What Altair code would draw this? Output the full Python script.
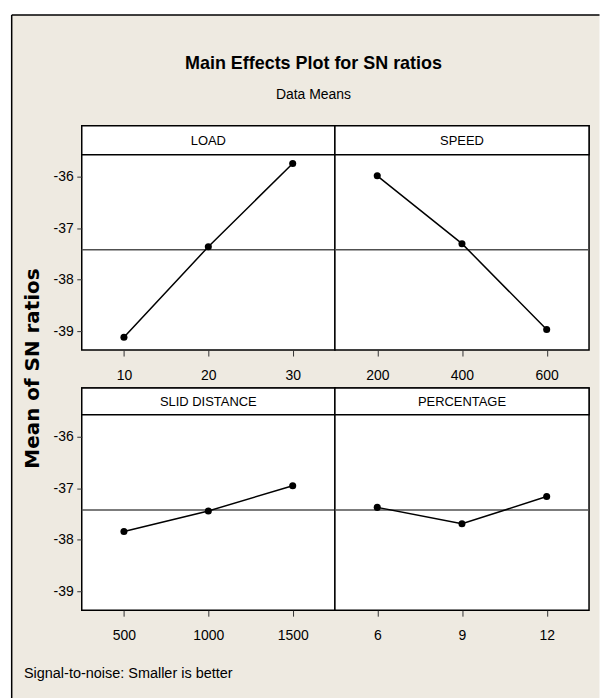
import altair as alt
import pandas as pd

# ---------------- data ----------------
load_levels = [10, 20, 30]
load_sn = [-39.12, -37.36, -35.74]
speed_levels = [200, 400, 600]
speed_sn = [-35.98, -37.30, -38.97]
dist_levels = [500, 1000, 1500]
dist_sn = [-37.84, -37.44, -36.95]
pct_levels = [6, 9, 12]
pct_sn = [-37.37, -37.69, -37.16]
overall_mean = -37.42
y_ticks = [-39, -38, -37, -36]
y_domain = [-39.37, -35.57]

factor_names = ["LOAD", "SPEED", "SLID DISTANCE", "PERCENTAGE"]
title_text = "Main Effects Plot for SN ratios"
subtitle_text = "Data Means"
y_title_text = "Mean of SN ratios"
footnote_text = "Signal-to-noise: Smaller is better"

# ---------------- style ----------------
FONT = "Liberation Sans"
BEIGE = "#EEEAE1"
PLOT_H = 196
one = pd.DataFrame({"k": [0]})

# frame extents relative to the first panel origin
FX0, FX1, FY0, FY1 = -70.3, 519.5, -111.3, 600


def panel(label, levels, values, width, hh, show_y, first=False):
    total_h = hh + PLOT_H
    order = [str(v) for v in levels]
    df = pd.DataFrame({"level": order, "sn": values})
    mdf = pd.DataFrame({"sn": [overall_mean]})
    x = alt.X("level:O", sort=order,
              scale=alt.Scale(type="point", padding=0.5),
              axis=alt.Axis(title=None, labelAngle=0, tickSize=6, labelPadding=12.3,
                            labelFont=FONT, labelFontSize=14, zindex=1))
    if show_y:
        yax = alt.Axis(title=None, values=y_ticks, tickSize=5, labelPadding=3.5, zindex=1,
                       labelFont=FONT, labelFontSize=14, labelExpr="datum.value + ''")
    else:
        yax = None
    y = alt.Y("sn:Q", scale=alt.Scale(domain=y_domain, range=[total_h, hh], nice=False, zero=False),
              axis=yax)

    layers = []
    if first:
        layers.append(alt.Chart(one).mark_rect(fill=BEIGE, strokeWidth=0).encode(
            x=alt.value(FX0), x2=alt.value(FX1), y=alt.value(FY0), y2=alt.value(FY1)))
        layers.append(alt.Chart(one).mark_rule(color="black", strokeWidth=1.5).encode(
            x=alt.value(FX0), y=alt.value(FY0), y2=alt.value(FY1)))
        layers.append(alt.Chart(one).mark_rule(color="black", strokeWidth=1.5).encode(
            x=alt.value(FX0), x2=alt.value(FX1), y=alt.value(FY0)))
        layers.append(alt.Chart(one).mark_rect(fill="white", stroke="black", strokeWidth=1.5).encode(
            x=alt.value(0), x2=alt.value(width), y=alt.value(0), y2=alt.value(total_h)))
        layers.append(alt.Chart(one).mark_text(font=FONT, fontSize=18, fontWeight="bold", align="center",
                                               baseline="alphabetic", color="black").encode(
            x=alt.value(232.5), y=alt.value(-57), text=alt.value(title_text)))
        layers.append(alt.Chart(one).mark_text(font=FONT, fontSize=14, align="center",
                                               baseline="alphabetic", color="black").encode(
            x=alt.value(232.5), y=alt.value(-26.5), text=alt.value(subtitle_text)))
        layers.append(alt.Chart(one).mark_text(font=FONT, fontSize=14.5, align="left",
                                               baseline="alphabetic", color="black").encode(
            x=alt.value(-58), y=alt.value(554.5), text=alt.value(footnote_text)))
        layers.append(alt.Chart(one).mark_text(font="DejaVu Sans", fontSize=20, fontWeight="bold",
                                               align="center", baseline="middle", angle=270,
                                               color="black").encode(
            x=alt.value(-49), y=alt.value(243.5), text=alt.value(y_title_text)))
    # header strip
    layers.append(alt.Chart(one).mark_rect(fill="white", stroke="black", strokeWidth=1.5).encode(
        x=alt.value(0), x2=alt.value(width), y=alt.value(0), y2=alt.value(hh)))
    layers.append(alt.Chart(one).mark_text(font=FONT, fontSize=13, align="center",
                                           baseline="middle", color="black").encode(
        x=alt.value(width / 2), y=alt.value(hh / 2 + 1), text=alt.value(label)))
    # data
    layers.append(alt.Chart(mdf).mark_rule(color="#505050", strokeWidth=1.5).encode(y=y))
    layers.append(alt.Chart(df).mark_line(color="black", strokeWidth=1.5).encode(x=x, y=y))
    layers.append(alt.Chart(df).mark_point(filled=True, color="black", opacity=1, size=50).encode(x=x, y=y))
    return alt.layer(*layers).properties(width=width, height=total_h)


chart = alt.concat(
    panel(factor_names[0], load_levels, load_sn, 254, 29, True, first=True),
    panel(factor_names[1], speed_levels, speed_sn, 255, 29, False),
    panel(factor_names[2], dist_levels, dist_sn, 254, 27, True),
    panel(factor_names[3], pct_levels, pct_sn, 255, 27, False),
    columns=2, spacing={"row": 38, "column": 0}, bounds="flush",
).properties(
    padding={"left": 2, "top": 4, "right": 0, "bottom": 0},
    background="white",
).configure_view(
    fill="white", stroke="black", strokeWidth=1.5
).configure_axis(
    domain=False, grid=False, tickColor="#333333", tickWidth=1, labelColor="black", zindex=1
)

chart.save("out.html", embed_options={"renderer": "svg", "actions": False})
